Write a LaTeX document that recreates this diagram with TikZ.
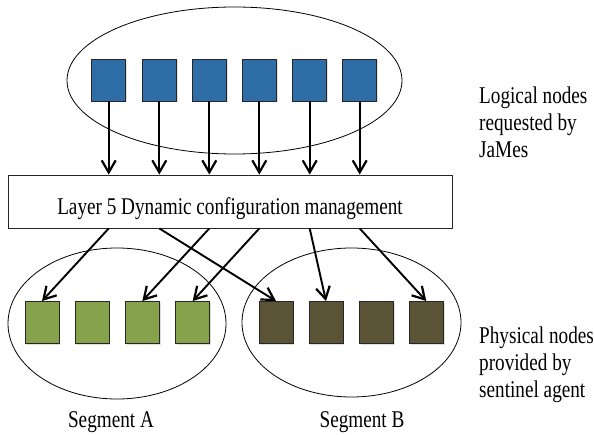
\documentclass[tikz,border=0pt]{standalone}
\usepackage{fontspec}
\usepackage{graphicx}
\setmainfont{Liberation Serif}
\newcommand{\narrow}[1]{\scalebox{0.8}[1]{#1}}
\usetikzlibrary{arrows.meta,shapes.geometric,shadows}
\definecolor{nodeblue}{HTML}{2E6DA5}
\definecolor{nodegreen}{HTML}{86A34B}
\definecolor{nodedark}{HTML}{5A5336}
\tikzset{
  sq/.style={draw=black!85, line width=0.9pt, minimum width=34pt, minimum height=42pt, inner sep=0pt,
    drop shadow={shadow xshift=1.2pt, shadow yshift=-1.5pt, opacity=0.25}},
  bluesq/.style={sq, fill=nodeblue},
  greensq/.style={sq, fill=nodegreen},
  darksq/.style={sq, fill=nodedark},
  grp/.style={draw=black, line width=0.8pt, ellipse, inner sep=0pt},
  layerbox/.style={draw=black!85, line width=0.9pt, fill=white, minimum width=444pt, minimum height=53pt, inner sep=0pt,
    drop shadow={shadow xshift=1.2pt, shadow yshift=-1.5pt, opacity=0.25}},
  arr/.style={line width=1.9pt, -{Straight Barb[length=12pt,width=14pt,line width=2.2pt]}},
  txt/.style={font=\fontsize{24}{27}\selectfont, inner sep=0pt},
}
\begin{document}
\begin{tikzpicture}[x=1pt,y=-1pt]
\useasboundingbox (0,0) rectangle (594,435);
% group ellipses
\node[grp, minimum width=335pt, minimum height=147pt] (topgrp) at (234.5,80.5) {};
\node[grp, minimum width=218pt, minimum height=151pt] (segA) at (117,323.5) {};
\node[grp, minimum width=219pt, minimum height=149pt] (segB) at (351.5,322.5) {};
% logical nodes
\foreach \i/\x in {1/108.7,2/159.3,3/209.3,4/259.3,5/309.7,6/359.7}
  \node[bluesq] (b\i) at (\x,80) {};
% layer box
\node[layerbox] (box) at (230,201.5) {};
\node[txt, anchor=base] (boxlbl) at (230,215) {\narrow{Layer 5 Dynamic configuration management}};
% physical nodes
\foreach \i/\x in {1/42,2/92,3/142.3,4/192.7}
  \node[greensq] (g\i) at (\x,322.5) {};
\foreach \i/\x in {1/276,2/326,3/376.3,4/426.3}
  \node[darksq] (d\i) at (\x,322.5) {};
% top arrows
\foreach \i in {1,...,6}
  \draw[arr] (b\i.south) -- (b\i.south |- box.north);
% bottom arrows
\draw[arr] (b1.south |- box.south) -- (g1.north);
\draw[arr] (b2.south |- box.south) -- (d1.north);
\draw[arr] (b3.south |- box.south) -- (g3.north);
\draw[arr] (b4.south |- box.south) -- (g4.north);
\draw[arr] (b5.south |- box.south) -- (d2.north);
\draw[arr] (b6.south |- box.south) -- (d4.north);
% labels
\node[txt, anchor=north west, align=left] (logical) at (479,86.5) {\narrow{Logical nodes}\\\narrow{requested by}\\\narrow{JaMes}};
\node[txt, anchor=north west, align=left] (physical) at (479,326.5) {\narrow{Physical nodes}\\\narrow{provided by}\\\narrow{sentinel agent}};
\node[txt, anchor=base] (labA) at (111,427) {\narrow{Segment A}};
\node[txt, anchor=base] (labB) at (362,427) {\narrow{Segment B}};
\end{tikzpicture}
\end{document}
